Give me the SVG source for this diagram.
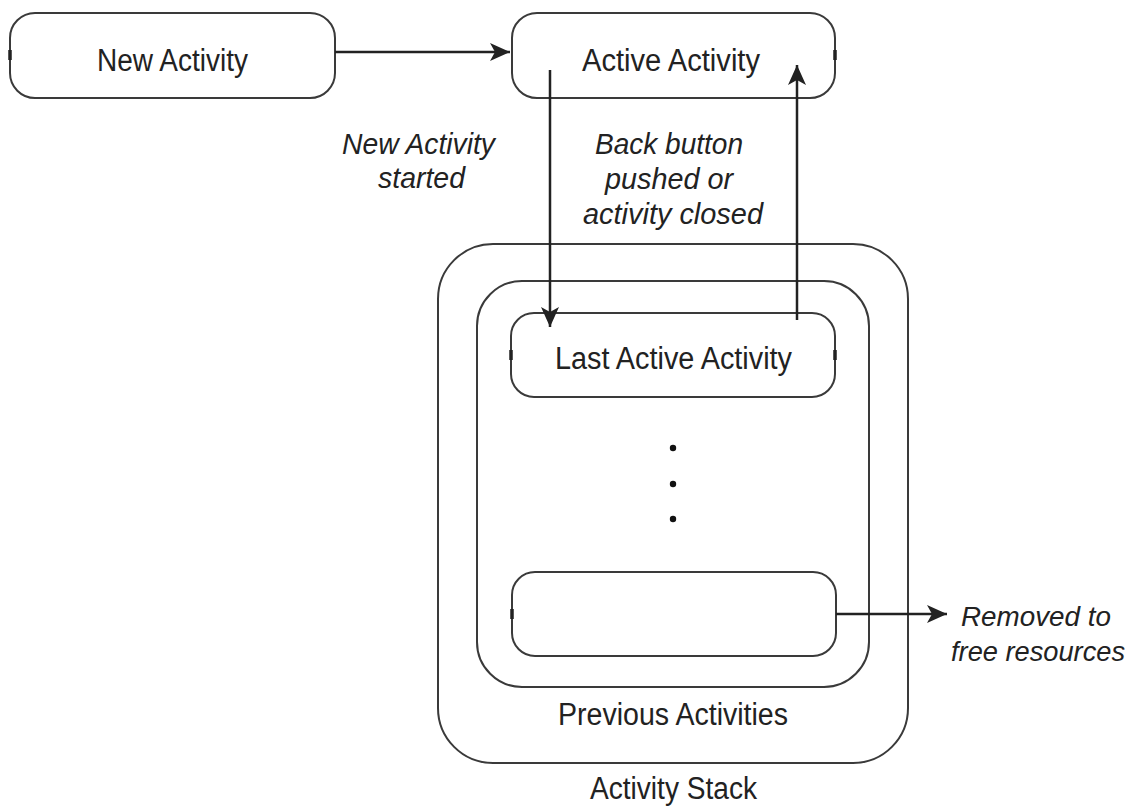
<svg xmlns="http://www.w3.org/2000/svg" width="1138" height="810" viewBox="0 0 1138 810">
<style>
.box{fill:none;stroke:#3a3a3a;stroke-width:2}
.tick{stroke:#222;stroke-width:3.5}
.lbl{font-family:"Liberation Sans",Arial,sans-serif;font-size:31px;fill:#222}
.it{font-family:"Liberation Sans",Arial,sans-serif;font-size:30px;font-style:italic;fill:#222}
.it2{font-family:"Liberation Sans",Arial,sans-serif;font-size:28px;font-style:italic;fill:#222}
.edge{fill:none;stroke:#222;stroke-width:2.5}
</style>
<defs>
<marker id="arr" markerUnits="userSpaceOnUse" markerWidth="22" markerHeight="20" refX="20" refY="9" orient="auto">
<path d="M0,0 L20,9 L0,18 L5,9 z" fill="#222"/>
</marker>
</defs>
<rect width="1138" height="810" fill="#fff"/>
<g id="activity-stack">
<rect class="box" x="438" y="244" width="470" height="519" rx="55" ry="55"/>
<text class="lbl" x="590" y="799" textLength="167" lengthAdjust="spacingAndGlyphs">Activity Stack</text>
</g>
<g id="previous-activities">
<rect class="box" x="477" y="281" width="392" height="406" rx="45" ry="45"/>
<text class="lbl" x="558" y="725" textLength="230" lengthAdjust="spacingAndGlyphs">Previous Activities</text>
<circle cx="673" cy="448" r="3.2" fill="#111"/>
<circle cx="673" cy="484" r="3.2" fill="#111"/>
<circle cx="673" cy="519" r="3.2" fill="#111"/>
</g>
<g id="new-activity">
<rect class="box" x="10" y="13" width="325" height="85" rx="25" ry="25"/>
<line class="tick" x1="10" y1="50" x2="10" y2="60"/>
<text class="lbl" x="97" y="71" textLength="151" lengthAdjust="spacingAndGlyphs">New Activity</text>
</g>
<g id="active-activity">
<rect class="box" x="512" y="13" width="323" height="85" rx="25" ry="25"/>
<line class="tick" x1="835" y1="50" x2="835" y2="60"/>
<text class="lbl" x="582" y="71" textLength="178" lengthAdjust="spacingAndGlyphs">Active Activity</text>
</g>
<g id="last-active-activity">
<rect class="box" x="511" y="313" width="324" height="84" rx="23" ry="23"/>
<line class="tick" x1="511" y1="350" x2="511" y2="360"/>
<line class="tick" x1="835" y1="350" x2="835" y2="360"/>
<text class="lbl" x="555" y="369" textLength="237" lengthAdjust="spacingAndGlyphs">Last Active Activity</text>
</g>
<g id="oldest-activity">
<rect class="box" x="512" y="572" width="324" height="84" rx="23" ry="23"/>
<line class="tick" x1="512" y1="609" x2="512" y2="619"/>
</g>
<g id="connectors">
<line class="edge" x1="335" y1="52" x2="510" y2="52" marker-end="url(#arr)"/>
<line class="edge" x1="550" y1="70" x2="550" y2="327" marker-end="url(#arr)"/>
<line class="edge" x1="797" y1="320" x2="797" y2="65" marker-end="url(#arr)"/>
<line class="edge" x1="836" y1="614" x2="947" y2="614" marker-end="url(#arr)"/>
</g>
<g id="labels">
<text class="it" x="342" y="154" textLength="153" lengthAdjust="spacingAndGlyphs">New Activity</text>
<text class="it" x="378" y="188" textLength="87" lengthAdjust="spacingAndGlyphs">started</text>
<text class="it" x="595" y="154" textLength="148" lengthAdjust="spacingAndGlyphs">Back button</text>
<text class="it" x="605" y="189" textLength="128" lengthAdjust="spacingAndGlyphs">pushed or</text>
<text class="it" x="583" y="224" textLength="180" lengthAdjust="spacingAndGlyphs">activity closed</text>
<text class="it2" x="961" y="626" textLength="150" lengthAdjust="spacingAndGlyphs">Removed to</text>
<text class="it2" x="951" y="661" textLength="174" lengthAdjust="spacingAndGlyphs">free resources</text>
</g>
</svg>
